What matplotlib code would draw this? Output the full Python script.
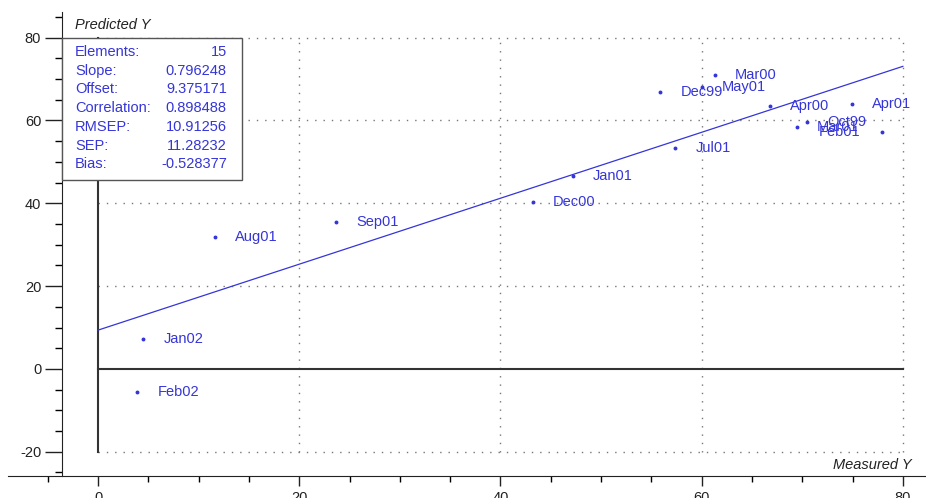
import matplotlib
matplotlib.use("Agg")
import matplotlib.pyplot as plt
from matplotlib.patches import Rectangle
from matplotlib.ticker import MultipleLocator

plt.rcParams['font.family'] = ['Liberation Sans', 'DejaVu Sans']
plt.rcParams['axes.unicode_minus'] = False

# data
names = ['Feb02', 'Jan02', 'Aug01', 'Sep01', 'Dec00', 'Jan01', 'Jul01', 'Dec99',
         'May01', 'Mar00', 'Apr00', 'Apr01', 'Oct99', 'Mar01', 'Feb01']
measured = [3.9, 4.5, 11.6, 23.7, 43.2, 47.2, 57.4, 55.9,
            60.0, 61.3, 66.8, 74.9, 70.5, 69.5, 77.9]
predicted = [-5.6, 7.2, 31.9, 35.6, 40.4, 46.7, 53.3, 67.0,
             68.2, 71.0, 63.4, 64.1, 59.6, 58.5, 57.3]

stat_names = ['Elements:', 'Slope:', 'Offset:', 'Correlation:', 'RMSEP:', 'SEP:', 'Bias:']
stat_values = ['15', '0.796248', '9.375171', '0.898488', '10.91256', '11.28232', '-0.528377']
slope = 0.796248
offset = 9.375171

blue = '#3535d8'
fs = 10.5

fig = plt.figure(figsize=(9.26, 4.98), dpi=100)
ax = fig.add_axes([8 / 926, 22 / 498, 918 / 926, 464 / 498])
ax.set_xlim(-8.95, 82.3)
ax.set_ylim(-25.85, 86.2)

for s in ['top', 'right']:
    ax.spines[s].set_visible(False)
ax.spines['left'].set_position(('data', -3.58))
ax.spines['left'].set_color('#222')
ax.spines['bottom'].set_color('#222')

ax.set_xticks([0, 20, 40, 60, 80])
ax.set_yticks([-20, 0, 20, 40, 60, 80])
ax.xaxis.set_minor_locator(MultipleLocator(5))
ax.yaxis.set_minor_locator(MultipleLocator(5))
ax.tick_params(axis='y', which='major', length=12, width=1, labelsize=fs, pad=3)
ax.tick_params(axis='y', which='minor', length=5, width=1)
ax.tick_params(axis='x', which='major', length=7, width=1, labelsize=fs, pad=4)
ax.tick_params(axis='x', which='minor', length=4, width=1)
ax.tick_params(colors='#222')

# dotted grid
dot = dict(color='#777777', linestyle=(0, (1, 5)), linewidth=1.0, zorder=1)
for gx in [20, 40, 60, 80]:
    ax.plot([gx, gx], [-20, 80], **dot)
for gy in [-20, 20, 40, 60, 80]:
    ax.plot([0, 80], [gy, gy], **dot)

# zero lines
ax.plot([0, 0], [-20, 80], color='#333333', lw=1.5, zorder=2)
ax.plot([0, 80], [0, 0], color='#333333', lw=1.5, zorder=2)

# regression line
ax.plot([0, 80], [offset, offset + slope * 80], color=blue, lw=0.9, zorder=3)

# points and labels
ax.plot(measured, predicted, 'o', color=blue, ms=1.8, zorder=4)
label_shift = {'Feb01': -63}
for n, x, y in zip(names, measured, predicted):
    dx = label_shift.get(n, 20) * 0.72
    ax.annotate(n, (x, y), xytext=(dx, 0), textcoords='offset points',
                va='center', ha='left', color=blue, fontsize=fs, zorder=4)

# statistics box
ax.add_patch(Rectangle((-3.58, 45.65), 17.9, 34.3, facecolor='white',
                       edgecolor='#555555', lw=1.0, zorder=5))
for i, (sn, sv) in enumerate(zip(stat_names, stat_values)):
    yy = 76.6 - i * 4.53
    ax.text(-2.3, yy, sn, color=blue, fontsize=fs, va='center', ha='left', zorder=6)
    ax.text(12.8, yy, sv, color=blue, fontsize=fs, va='center', ha='right', zorder=6)

ax.text(-2.3, 83.1, 'Predicted Y', fontsize=fs, style='italic', va='center', ha='left', color='#222')
ax.text(80.9, -23.2, 'Measured Y', fontsize=fs, style='italic', va='center', ha='right', color='#222')

fig.savefig('out.png', dpi=100)
